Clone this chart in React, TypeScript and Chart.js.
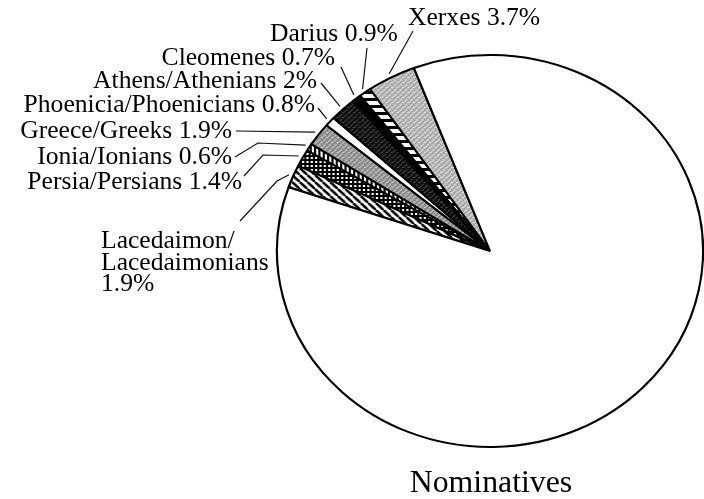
import React, { useEffect, useRef } from 'react';
import { Chart, registerables } from 'chart.js';

Chart.register(...registerables);

// ---- data ----
const categories = [
  'Lacedaimon/Lacedaimonians',
  'Persia/Persians',
  'Ionia/Ionians',
  'Greece/Greeks',
  'Phoenicia/Phoenicians',
  'Athens/Athenians',
  'Cleomenes',
  'Darius',
  'Xerxes',
  'Other',
];
const percentages = [1.9, 1.4, 0.6, 1.9, 0.8, 2, 0.7, 0.9, 3.7, 86.1];
const chartTitle = 'Nominatives';

// ---- layout / style ----
const STRETCH_X = 213 / 196; // the printed pie is slightly wider than tall
const FONT = '25.6px "Liberation Serif", "Times New Roman", serif';
const TITLE_FONT = '31.8px "Liberation Serif", "Times New Roman", serif';

type LabelLayout = {
  align: CanvasTextAlign;
  x: number;
  y: number;
  wrap?: boolean;
  lineH?: number;
  leader: number[][];
};

const labelLayouts: (LabelLayout | null)[] = [
  { align: 'left', x: 101, y: 248, wrap: true, lineH: 21.5, leader: [[240, 221], [277, 181]] },
  { align: 'right', x: 242, y: 189, leader: [[244, 176], [263, 155]] },
  { align: 'right', x: 232, y: 164, leader: [[235, 157], [258, 143]] },
  { align: 'right', x: 232, y: 138, leader: [[236, 131]] },
  { align: 'right', x: 315, y: 112, leader: [[318, 108]] },
  { align: 'right', x: 317, y: 88, leader: [[321, 83]] },
  { align: 'right', x: 335, y: 65, leader: [[341, 67]] },
  { align: 'left', x: 270, y: 41, leader: [[367, 48]] },
  { align: 'left', x: 408, y: 25, leader: [[413, 31]] },
  null,
];

function tile(w: number, h: number, draw: (c: CanvasRenderingContext2D) => void): CanvasPattern | string {
  const cv = document.createElement('canvas');
  cv.width = w;
  cv.height = h;
  const c = cv.getContext('2d');
  if (!c) return '#888';
  draw(c);
  const p = c.createPattern(cv, 'repeat');
  return p || '#888';
}

function stipple(base: string, dark: string, light: string) {
  return tile(5, 5, (c) => {
    c.fillStyle = base;
    c.fillRect(0, 0, 5, 5);
    c.fillStyle = dark;
    [[0, 0], [3, 1], [1, 3], [4, 4], [2, 2]].forEach(([x, y]) => c.fillRect(x, y, 1, 1));
    c.fillStyle = light;
    [[2, 0], [0, 2], [4, 2], [3, 4], [1, 1]].forEach(([x, y]) => c.fillRect(x, y, 1, 1));
  });
}

function makeFills() {
  const diag = tile(7, 7, (c) => {
    c.fillStyle = '#fff';
    c.fillRect(0, 0, 7, 7);
    c.strokeStyle = '#000';
    c.lineWidth = 2.4;
    for (const o of [-7, 0, 7]) {
      c.beginPath();
      c.moveTo(o, 0);
      c.lineTo(o + 7, 7);
      c.stroke();
    }
  });
  const grid = tile(4, 4, (c) => {
    c.fillStyle = '#000';
    c.fillRect(0, 0, 4, 4);
    c.fillStyle = '#fff';
    c.fillRect(1, 1, 2, 2);
  });
  const vert = tile(4, 4, (c) => {
    c.fillStyle = '#fff';
    c.fillRect(0, 0, 4, 4);
    c.fillStyle = '#000';
    c.fillRect(0, 0, 2, 4);
  });
  const dashes = tile(7, 7, (c) => {
    c.fillStyle = '#fff';
    c.fillRect(0, 0, 7, 7);
    c.fillStyle = '#000';
    c.fillRect(0, 0, 7, 3);
  });
  return [
    diag, // Lacedaimon
    grid, // Persia
    vert, // Ionia
    stipple('#9c9c9c', '#707070', '#c6c6c6'), // Greece
    '#ffffff', // Phoenicia
    stipple('#161616', '#000000', '#484848'), // Athens
    '#000000', // Cleomenes
    dashes, // Darius
    stipple('#bababa', '#929292', '#dedede'), // Xerxes
    '#ffffff', // remainder
  ];
}

const stretchPlugin = {
  id: 'stretch',
  beforeDatasetsDraw(chart: any) {
    const arc = chart.getDatasetMeta(0).data[0];
    const ctx = chart.ctx;
    ctx.save();
    ctx.translate(arc.x, arc.y);
    ctx.scale(STRETCH_X, 1);
    ctx.translate(-arc.x, -arc.y);
  },
  afterDatasetsDraw(chart: any) {
    chart.ctx.restore();
  },
};

const labelPlugin = {
  id: 'labels',
  afterDraw(chart: any) {
    const ctx: CanvasRenderingContext2D = chart.ctx;
    const meta = chart.getDatasetMeta(0);
    ctx.save();
    ctx.fillStyle = '#000';
    ctx.strokeStyle = '#111';
    ctx.lineWidth = 1.2;
    ctx.font = FONT;
    ctx.textBaseline = 'alphabetic';
    labelLayouts.forEach((lay, i) => {
      if (!lay) return;
      const arc = meta.data[i];
      const mid = (arc.startAngle + arc.endAngle) / 2;
      const r = arc.outerRadius + 4;
      const px = arc.x + Math.cos(mid) * r * STRETCH_X;
      const py = arc.y + Math.sin(mid) * r;
      ctx.beginPath();
      lay.leader.forEach(([x, y], k) => (k === 0 ? ctx.moveTo(x, y) : ctx.lineTo(x, y)));
      ctx.lineTo(px, py);
      ctx.stroke();
      ctx.textAlign = lay.align;
      const name = categories[i];
      const pct = `${percentages[i]}%`;
      if (lay.wrap) {
        const parts = name.split('/');
        const lines = [parts[0] + '/', parts[1], pct];
        lines.forEach((t, k) => ctx.fillText(t, lay.x, lay.y + k * (lay.lineH || 22)));
      } else {
        ctx.fillText(`${name} ${pct}`, lay.x, lay.y);
      }
    });
    const arc0 = meta.data[0];
    ctx.font = TITLE_FONT;
    ctx.textAlign = 'center';
    ctx.fillText(chartTitle, arc0.x + 1, 492);
    ctx.restore();
  },
};

export default function App() {
  const ref = useRef<HTMLCanvasElement | null>(null);
  useEffect(() => {
    if (!ref.current) return;
    const chart = new Chart(ref.current, {
      type: 'pie',
      data: {
        labels: categories,
        datasets: [
          {
            data: percentages,
            backgroundColor: makeFills() as any,
            borderColor: '#000',
            borderWidth: 2,
            hoverOffset: 0,
            clip: false as any,
          },
        ],
      },
      options: {
        responsive: false,
        animation: false,
        rotation: -71,
        radius: 196,
        events: [],
        layout: { padding: { left: 277, right: 1, top: 53, bottom: 50 } },
        plugins: {
          legend: { display: false },
          tooltip: { enabled: false },
          title: { display: false },
        },
      } as any,
      plugins: [stretchPlugin, labelPlugin],
    });
    return () => chart.destroy();
  }, []);
  return (
    <div style={{ position: 'absolute', left: 0, top: 0, width: 704, height: 499, background: '#fff' }}>
      <canvas ref={ref} width={704} height={499} style={{ display: 'block', width: 704, height: 499 }} />
    </div>
  );
}
